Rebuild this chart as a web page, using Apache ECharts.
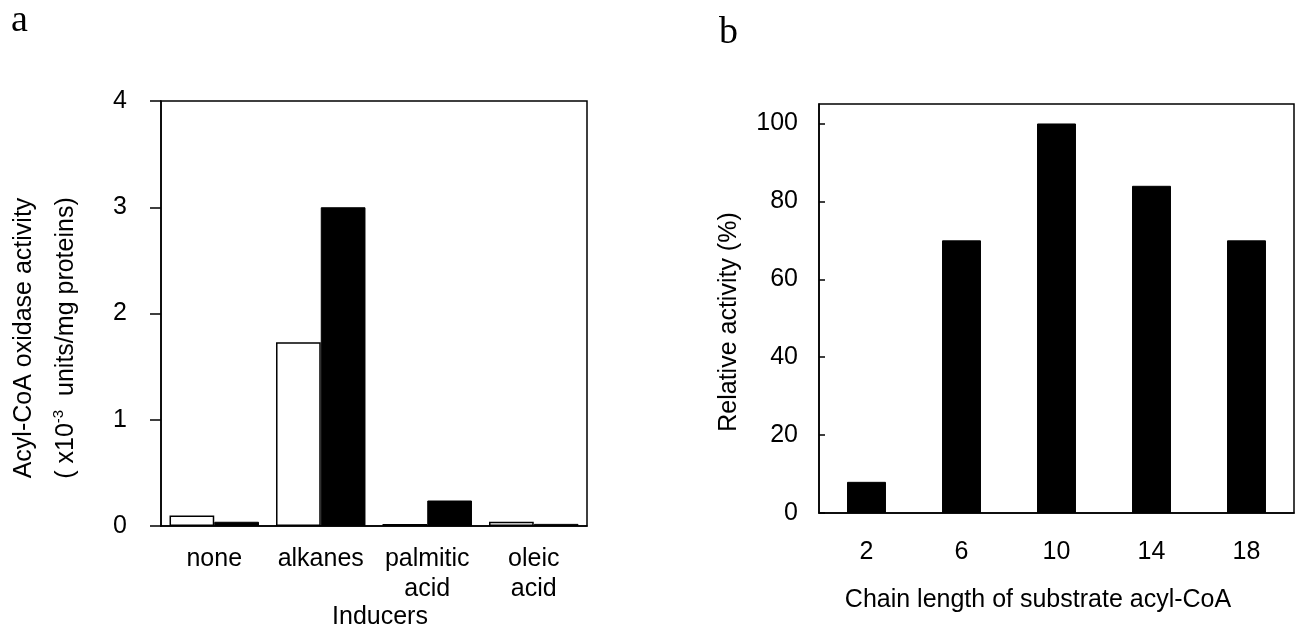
<!DOCTYPE html>
<html>
<head>
<meta charset="utf-8">
<script src="https://cdn.jsdelivr.net/npm/echarts@6/dist/echarts.min.js"></script>
<style>html,body{margin:0;padding:0;background:#fff;}#c{width:1295px;height:630px;}</style>
</head>
<body>
<div id="c"></div>
<script>
// Panel a
const inducers = ['none', 'alkanes', 'palmitic\nacid', 'oleic\nacid'];
const openBars = [0.1, 1.73, 0.02, 0.04];
const filledBars = [0.04, 3.0, 0.24, 0.02];
const yTicksA = [0, 1, 2, 3, 4];
// Panel b
const chainLengths = ['2', '6', '10', '14', '18'];
const relActivity = [8, 70, 100, 84, 70];
const yTicksB = [0, 20, 40, 60, 80, 100];

const FONT = 'Liberation Sans';
const FS = 25;
const chart = echarts.init(document.getElementById('c'), null, {renderer: 'canvas'});

chart.setOption({
  animation: false,
  backgroundColor: '#fff',
  graphic: [
    {type: 'text', left: 11, top: 2, style: {text: 'a', font: '38px "Liberation Serif"', fill: '#000'}},
    {type: 'text', left: 719, top: 14, style: {text: 'b', font: '38px "Liberation Serif"', fill: '#000'}}
  ],
  grid: [
    {left: 161, right: 708, top: 101, bottom: 104, show: true, borderColor: '#000', borderWidth: 1.5, backgroundColor: 'transparent', containLabel: false, outerBoundsMode: 'none'},
    {left: 819, right: 1, top: 104, bottom: 117, show: true, borderColor: '#000', borderWidth: 1.5, backgroundColor: 'transparent', containLabel: false, outerBoundsMode: 'none'}
  ],
  xAxis: [
    {
      type: 'category', gridIndex: 0, data: inducers,
      axisLine: {lineStyle: {color: '#000', width: 1.5}},
      axisTick: {alignWithLabel: true, length: 8, lineStyle: {color: '#000', width: 1.5}},
      axisLabel: {color: '#000', fontFamily: FONT, fontSize: FS, lineHeight: 30, margin: 18, interval: 0},
      name: 'Inducers', nameLocation: 'middle', nameGap: 79, nameMoveOverlap: false,
      nameTextStyle: {color: '#000', fontFamily: FONT, fontSize: FS, lineHeight: 25, padding: [0, 0, 0, 12]}
    },
    {
      type: 'category', gridIndex: 1, data: chainLengths,
      axisLine: {lineStyle: {color: '#000', width: 1.5}},
      axisTick: {inside: true, length: 5, lineStyle: {color: '#000', width: 1.5}},
      axisLabel: {color: '#000', fontFamily: FONT, fontSize: FS, lineHeight: 25, margin: 27, interval: 0},
      name: 'Chain length of substrate acyl-CoA', nameLocation: 'middle', nameGap: 75,
      nameTextStyle: {color: '#000', fontFamily: FONT, fontSize: FS, lineHeight: 25, padding: [0, 37, 0, 0]}
    }
  ],
  yAxis: [
    {
      type: 'value', gridIndex: 0, min: yTicksA[0], max: yTicksA[yTicksA.length - 1], interval: 1,
      splitLine: {show: false},
      axisLine: {show: true, lineStyle: {color: '#000', width: 1.5}},
      axisTick: {show: true, length: 11, lineStyle: {color: '#000', width: 1.5}},
      axisLabel: {color: '#000', fontFamily: FONT, fontSize: FS, margin: 34},
      name: '{n|Acyl-CoA oxidase activity}\n{n|( x10}{s|-3}{n|  units/mg proteins)}',
      nameLocation: 'middle', nameGap: 74, nameRotate: 90,
      nameTextStyle: {
        color: '#000', fontFamily: FONT, fontSize: FS, lineHeight: 42, padding: [0, 49, 0, 0],
        rich: {
          n: {color: '#000', fontFamily: FONT, fontSize: FS, lineHeight: 42},
          s: {color: '#000', fontFamily: FONT, fontSize: 15, lineHeight: 15, padding: [0, 0, 14, 0]}
        }
      }
    },
    {
      type: 'value', gridIndex: 1, min: yTicksB[0], max: 105, interval: 20,
      splitLine: {show: false},
      axisLine: {show: true, lineStyle: {color: '#000', width: 1.5}},
      axisTick: {show: true, inside: true, length: 6, lineStyle: {color: '#000', width: 1.5}},
      axisLabel: {color: '#000', fontFamily: FONT, fontSize: FS, margin: 21, showMaxLabel: false,
        formatter: v => (yTicksB.indexOf(v) >= 0 ? String(v) : '')},
      name: 'Relative activity (%)', nameLocation: 'middle', nameGap: 77, nameRotate: 90,
      nameTextStyle: {color: '#000', fontFamily: FONT, fontSize: FS, lineHeight: 25, padding: [0, 27, 0, 0]}
    }
  ],
  series: [
    {type: 'bar', xAxisIndex: 0, yAxisIndex: 0, data: openBars, barWidth: '42%', barGap: '0%',
      itemStyle: {color: '#fff', borderColor: '#000', borderWidth: 1.5}},
    {type: 'bar', xAxisIndex: 0, yAxisIndex: 0, data: filledBars, barWidth: '42%', barGap: '0%',
      itemStyle: {color: '#000', borderColor: '#000', borderWidth: 1}},
    {type: 'bar', xAxisIndex: 1, yAxisIndex: 1, data: relActivity, barWidth: '41%',
      itemStyle: {color: '#000', borderColor: '#000', borderWidth: 1}}
  ]
});
</script>
</body>
</html>
